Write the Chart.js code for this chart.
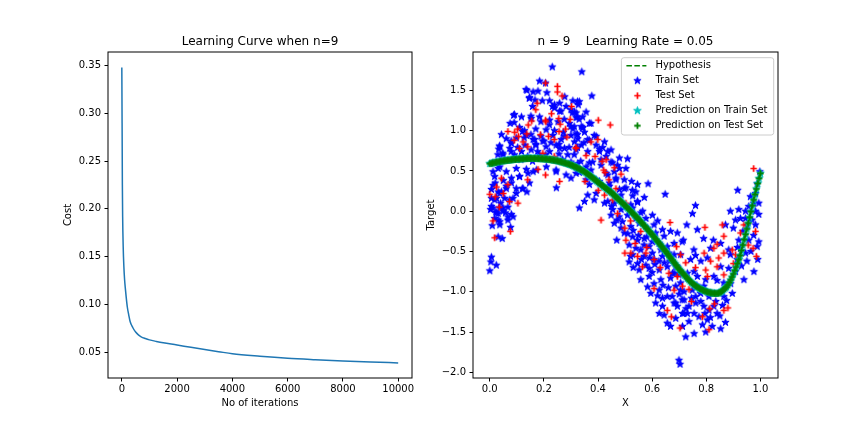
<!DOCTYPE html>
<html><head><meta charset="utf-8">
<script src="https://cdn.jsdelivr.net/npm/chart.js@4.4.0/dist/chart.umd.min.js"></script>
<style>
html,body{margin:0;padding:0;background:#fff;}
#wrap{position:relative;width:864px;height:432px;overflow:hidden;background:#fff;}
#c1{position:absolute;left:0;top:0;width:420px;height:432px;}
#c2{position:absolute;left:420px;top:0;width:444px;height:432px;}
</style></head><body>
<div id="wrap"><canvas id="c1" width="420" height="432"></canvas><canvas id="c2" width="444" height="432"></canvas></div>
<script>
// ---------- Left chart: learning curve ----------
const iterations = [0,10,20,30,50,75,100,130,160,200,250,300,400,500,600,700,850,1000,1250,1500,2000,2500,3000,3500,4000,5000,6000,7000,8000,9000,10000];
const costValues = [0.348,0.290,0.225,0.192,0.160,0.139,0.126,0.116,0.107,0.097,0.089,0.082,0.0755,0.0710,0.0680,0.0660,0.0642,0.0628,0.0612,0.0598,0.0575,0.0550,0.0527,0.0505,0.0483,0.0457,0.0436,0.0421,0.0408,0.0397,0.0387];
const leftXTicks = [0,2000,4000,6000,8000,10000];
const leftYTicks = [0.05,0.10,0.15,0.20,0.25,0.30,0.35];

// ---------- Right chart: hypothesis / predictions (read along the green band) ----------
const hypX = [
0.000,0.005,0.010,0.015,0.020,0.025,0.030,0.035,0.040,0.045,0.050,0.055,0.060,0.065,0.070,0.075,0.080,0.085,0.090,0.095,
0.100,0.105,0.110,0.115,0.120,0.125,0.130,0.135,0.140,0.145,0.150,0.155,0.160,0.165,0.170,0.175,0.180,0.185,0.190,0.195,
0.200,0.205,0.210,0.215,0.220,0.225,0.230,0.235,0.240,0.245,0.250,0.255,0.260,0.265,0.270,0.275,0.280,0.285,0.290,0.295,
0.300,0.305,0.310,0.315,0.320,0.325,0.330,0.335,0.340,0.345,0.350,0.355,0.360,0.365,0.370,0.375,0.380,0.385,0.390,0.395,
0.400,0.405,0.410,0.415,0.420,0.425,0.430,0.435,0.440,0.445,0.450,0.455,0.460,0.465,0.470,0.475,0.480,0.485,0.490,0.495,
0.500,0.505,0.510,0.515,0.520,0.525,0.530,0.535,0.540,0.545,0.550,0.555,0.560,0.565,0.570,0.575,0.580,0.585,0.590,0.595,
0.600,0.605,0.610,0.615,0.620,0.625,0.630,0.635,0.640,0.645,0.650,0.655,0.660,0.665,0.670,0.675,0.680,0.685,0.690,0.695,
0.700,0.705,0.710,0.715,0.720,0.725,0.730,0.735,0.740,0.745,0.750,0.755,0.760,0.765,0.770,0.775,0.780,0.785,0.790,0.795,
0.800,0.805,0.810,0.815,0.820,0.825,0.830,0.835,0.840,0.845,0.850,0.855,0.860,0.865,0.870,0.875,0.880,0.885,0.890,0.895,
0.900,0.905,0.910,0.915,0.920,0.925,0.930,0.935,0.940,0.945,0.950,0.955,0.960,0.965,0.970,0.975,0.980,0.985,0.990,0.995,
1.000];
const hypY = [
0.590,0.594,0.598,0.602,0.606,0.609,0.612,0.615,0.619,0.622,0.625,0.627,0.630,0.632,0.634,0.636,0.638,0.640,0.642,0.643,
0.645,0.647,0.648,0.650,0.651,0.652,0.653,0.654,0.654,0.655,0.655,0.655,0.655,0.655,0.654,0.654,0.653,0.652,0.652,0.651,
0.650,0.648,0.646,0.644,0.642,0.640,0.637,0.634,0.631,0.628,0.625,0.621,0.616,0.612,0.607,0.602,0.597,0.592,0.586,0.581,
0.575,0.568,0.560,0.552,0.544,0.536,0.527,0.518,0.509,0.500,0.490,0.478,0.466,0.454,0.441,0.428,0.415,0.402,0.388,0.374,
0.360,0.347,0.334,0.321,0.308,0.295,0.282,0.269,0.256,0.243,0.230,0.214,0.198,0.182,0.166,0.150,0.134,0.118,0.102,0.086,
0.070,0.053,0.036,0.020,0.003,-0.014,-0.031,-0.048,-0.066,-0.083,-0.100,-0.119,-0.138,-0.156,-0.175,-0.194,-0.213,-0.232,-0.252,-0.271,
-0.290,-0.311,-0.332,-0.352,-0.373,-0.394,-0.415,-0.436,-0.458,-0.479,-0.500,-0.522,-0.544,-0.566,-0.588,-0.610,-0.632,-0.654,-0.676,-0.698,
-0.720,-0.739,-0.758,-0.777,-0.796,-0.815,-0.833,-0.851,-0.868,-0.884,-0.900,-0.913,-0.926,-0.937,-0.948,-0.958,-0.967,-0.976,-0.984,-0.991,
-0.998,-1.003,-1.008,-1.012,-1.015,-1.018,-1.019,-1.020,-1.019,-1.016,-1.010,-1.000,-0.986,-0.970,-0.955,-0.940,-0.915,-0.885,-0.853,-0.818,
-0.780,-0.737,-0.694,-0.650,-0.602,-0.550,-0.487,-0.420,-0.352,-0.287,-0.220,-0.148,-0.076,-0.004,0.068,0.140,0.208,0.276,0.344,0.408,
0.470];

// ---------- Right chart: train set (blue stars) ----------
const trainX = [
0.231,0.184,0.206,0.137,0.16,0.178,0.211,0.147,0.194,0.221,
0.239,0.258,0.282,0.30,0.319,0.088,0.117,0.153,0.184,0.221,
0.252,0.294,0.043,0.061,0.098,0.135,0.166,0.196,0.233,0.264,
0.30,0.037,0.074,0.117,0.153,0.184,0.221,0.258,0.288,0.319,
0.037,0.018,0.061,0.098,0.135,0.16,0.245,0.30,0.246,0.012,
0.031,0.061,0.086,0.137,0.006,0.012,0.037,0.067,0.031,0.08,
0.11,0.128,0.17,0.208,0.239,0.272,0.307,0.08,0.13,0.17,
0.208,0.245,0.276,0.313,0.049,0.098,0.30,0.319,0.031,0.08,
0.11,0.012,0.12,0.025,0.055,0.043,0.098,0.049,0.018,0.031,
0.009,0.037,0.067,0.086,0.077,0.031,0.046,0.006,0.004,0.024,
0.0,0.34,0.377,0.331,0.327,0.356,0.323,0.368,0.338,0.386,
0.325,0.417,0.436,0.448,0.362,0.479,0.509,0.325,0.374,0.46,
0.497,0.524,0.546,0.571,0.648,0.527,0.362,0.393,0.35,0.424,
0.331,0.565,0.313,0.343,0.35,0.319,0.368,0.338,0.393,0.424,
0.405,0.38,0.411,0.448,0.356,0.331,0.436,0.472,0.503,0.393,
0.442,0.466,0.368,0.497,0.54,0.485,0.386,0.46,0.521,0.546,
0.436,0.454,0.478,0.46,0.528,0.558,0.577,0.601,0.607,0.638,
0.668,0.693,0.469,0.497,0.515,0.546,0.528,0.558,0.589,0.626,
0.515,0.546,0.577,0.607,0.638,0.681,0.711,0.558,0.589,0.607,
0.632,0.668,0.699,0.583,0.626,0.656,0.705,0.613,0.638,0.681,
0.711,0.644,0.656,0.717,0.699,0.703,0.485,0.509,0.54,0.448,
0.521,0.552,0.583,0.613,0.644,0.681,0.485,0.528,0.571,0.601,
0.656,0.54,0.571,0.601,0.632,0.662,0.552,0.589,0.626,0.656,
0.687,0.595,0.638,0.674,0.693,0.626,0.687,0.668,0.916,0.998,
0.76,0.749,0.728,0.767,0.715,0.79,0.826,0.889,0.92,0.945,
0.963,0.982,0.994,0.871,0.9,0.926,0.951,0.982,0.994,0.988,
0.976,0.945,0.92,0.853,0.816,0.754,0.705,0.742,0.804,0.889,
0.914,0.939,0.908,0.883,0.693,0.73,0.767,0.798,0.828,0.865,
0.705,0.748,0.779,0.81,0.896,0.718,0.761,0.791,0.828,0.73,
0.773,0.804,0.871,0.712,0.755,0.724,0.798,0.853,0.681,0.699,
0.755,0.718,0.791,0.865,0.761,0.736,0.81,0.84,0.755,0.786,
0.736,0.822,0.712,0.687,0.687,0.853,0.883,0.926,0.957,0.969,
0.957,0.975,0.994,0.988,0.982,0.945,0.908,0.134,0.146,0.167,
0.277,0.324,0.158,0.091,0.152,0.232,0.263,0.305,0.33,0.189,
0.22,0.299,0.121,0.152,0.189,0.275,0.324,0.036,0.079,0.103,
0.17,0.226,0.256,0.293,0.348,0.048,0.091,0.14,0.207,0.256,
0.312,0.075,0.127,0.2,0.275,0.312,0.342,0.324,0.158,0.115,
0.269,0.336,0.079,0.03,0.177,0.006,0.02,0.05,0.04,0.003,
0.022,0.058,0.585,
0.033,0.090,0.160,0.239,0.258,0.307,0.319,0.344,0.362,0.374,
0.393,0.405,0.368,0.411,0.43,0.454,0.43,0.466,0.479,0.503,
0.528,0.546,0.479,0.442,0.405,0.356,0.319,0.282,0.245,0.209,
0.172,0.141,0.11,0.08,0.061,0.037,0.018,0.006,0.025,0.049,
0.074,0.098,0.123,0.147,0.067,0.037,0.45,0.47,0.49,0.51,
0.53,0.55,0.57,0.59,0.61,0.625,0.645,0.665,0.675,0.64,
0.62,0.66,0.60,0.56,0.53,0.52,0.58,0.62,0.70,0.725,
0.745,0.765,0.78,0.795,0.815,0.835,0.85,0.86,0.875,0.89,
0.84,0.78,0.76,0.93,0.95,0.965,0.99,0.975,0.935,0.915];
const trainY = [
1.79,1.615,1.59,1.50,1.48,1.49,1.47,1.41,1.37,1.37,
1.32,1.34,1.30,1.26,1.22,1.19,1.17,1.15,1.17,1.13,
1.11,1.09,0.95,0.90,0.91,0.94,0.89,0.87,0.94,0.89,
0.94,0.80,0.78,0.74,0.76,0.70,0.74,0.78,0.70,0.76,
0.55,0.43,0.49,0.53,0.52,0.49,0.49,0.41,0.29,0.32,
0.24,0.28,0.16,0.24,0.16,0.04,0.04,0.05,-0.03,-0.04,
1.04,1.00,1.02,1.01,1.00,0.98,1.02,0.84,0.82,0.82,
0.80,0.82,0.78,0.86,0.70,0.65,0.61,0.55,0.53,0.41,
0.43,0.49,0.28,0.16,0.16,0.24,0.28,0.0,-0.09,-0.11,
-0.18,-0.17,-0.11,-0.07,-0.20,-0.32,-0.34,-0.57,-0.63,-0.67,
-0.74,1.73,1.43,1.36,1.32,1.23,1.17,1.09,1.05,0.94,
0.90,0.79,0.74,0.76,0.74,0.66,0.65,0.59,0.51,0.49,
0.39,0.37,0.33,0.17,0.21,0.26,0.20,0.22,0.12,0.10,
0.04,0.0,1.23,1.17,0.98,0.96,0.88,0.82,0.82,0.86,
0.74,0.61,0.57,0.61,0.55,0.48,0.45,0.57,0.53,0.39,
0.35,0.39,0.33,0.28,0.24,0.20,0.14,0.10,0.08,0.12,
0.12,0.02,-0.07,-0.15,0.04,-0.02,-0.09,-0.05,-0.17,-0.23,
-0.25,-0.27,-0.36,-0.27,-0.42,-0.36,-0.54,-0.48,-0.44,-0.40,
-0.63,-0.65,-0.67,-0.60,-0.56,-0.54,-0.38,-0.85,-0.81,-0.90,
-0.85,-0.83,-0.79,-0.94,-0.98,-1.06,-0.98,-1.14,-1.18,-1.14,
-1.10,-1.29,-1.39,-1.27,-1.85,-1.90,0.02,-0.05,-0.09,-0.05,
-0.19,-0.15,-0.21,-0.27,-0.31,-0.40,-0.21,-0.32,-0.34,-0.38,
-0.44,-0.46,-0.56,-0.52,-0.48,-0.52,-0.73,-0.71,-0.73,-0.69,
-0.69,-1.02,-1.08,-1.06,-1.18,-1.27,-1.33,-1.43,0.26,0.49,
0.07,-0.03,-0.17,-0.23,-0.36,-0.34,-0.36,0.0,0.02,0.0,
0.18,0.22,-0.04,-0.17,-0.21,-0.09,-0.18,-0.17,-0.38,-0.44,
-0.75,-0.52,-0.36,-0.40,-0.46,-0.48,-0.54,-0.60,-0.58,-0.54,
-0.60,-0.85,-0.75,-0.71,-0.69,-0.77,-0.81,-0.85,-0.81,-0.89,
-0.89,-0.98,-1.02,-1.06,-1.02,-1.10,-1.14,-1.18,-1.18,-1.27,
-1.31,-1.35,-1.38,-1.43,-1.52,-1.56,-1.50,-1.46,-0.77,-0.77,
-0.75,-1.0,-0.93,-1.06,-1.06,-1.18,-1.23,-1.27,-1.27,-1.41,
-1.37,-1.43,-1.27,-1.14,-0.93,-0.69,-0.48,-0.46,-0.36,-0.11,
0.06,0.10,0.10,0.34,0.0,-0.09,-0.11,1.51,1.40,1.38,
1.42,1.36,1.30,1.20,1.18,1.30,1.24,1.22,1.14,1.11,
1.07,1.05,0.99,0.95,0.93,0.93,0.95,0.81,0.87,0.79,
0.83,0.85,0.83,0.79,0.85,0.72,0.70,0.68,0.70,0.71,
0.70,1.09,0.91,0.87,1.14,1.05,1.03,0.79,0.62,0.64,
0.64,0.62,0.74,0.70,0.74,0.27,0.35,0.38,0.10,0.02,
-0.01,-0.02,0.34,
0.77,1.10,0.89,1.28,1.24,1.37,1.16,1.04,0.89,1.09,
0.93,0.77,0.60,0.64,0.68,0.60,0.47,0.41,0.53,0.29,
0.19,0.11,0.27,0.31,0.37,0.39,0.47,0.45,0.51,0.55,
0.51,0.47,0.43,0.35,0.31,0.22,0.14,0.06,-0.02,0.04,
0.14,0.22,0.28,0.35,-0.07,-0.13,0.06,-0.11,-0.13,-0.28,
-0.24,-0.30,-0.42,-0.58,-0.66,-0.62,-0.64,-0.62,-0.77,-0.92,
-1.05,-0.95,-0.76,-0.60,-0.70,-0.56,-0.32,-0.12,-1.03,-1.21,
-1.08,-0.92,-1.12,-1.27,-1.32,-1.12,-1.30,-1.17,-1.11,-0.90,
-0.86,-0.62,-0.55,-0.68,-0.62,-0.50,-0.60,-0.30,-0.25,-0.45];

// ---------- Right chart: test set (red plus) ----------
const testX = [
0.206,0.25,0.25,0.267,0.175,0.17,0.206,0.255,0.26,0.28,
0.067,0.092,0.137,0.11,0.14,0.196,0.178,0.206,0.14,0.043,
0.067,0.0,0.073,0.104,0.012,0.018,0.076,0.401,0.445,0.374,
0.399,0.356,0.389,0.43,0.319,0.46,0.421,0.426,0.485,0.352,
0.466,0.401,0.424,0.454,0.503,0.411,0.472,0.499,0.558,0.503,
0.537,0.499,0.521,0.546,0.577,0.607,0.564,0.666,0.69,0.662,
0.607,0.681,0.693,0.656,0.671,0.703,0.705,0.975,0.859,0.795,
0.865,0.84,0.828,0.896,0.973,0.926,0.939,0.982,0.985,0.792,
0.846,0.865,0.908,0.724,0.816,0.798,0.84,0.804,0.865,0.712,
0.736,0.865,0.813,0.786,0.810,0.302,0.142,0.207,0.256,0.297,
0.103,0.187,0.106,0.217,0.238,0.318,0.238,0.025,0.02,0.258,
0.09,0.155,0.228,0.123,0.285,0.05,0.035,0.415,0.44,0.52,
0.58,0.63,0.76,0.83,0.90,0.955,0.88,0.745];
const testY = [
1.59,1.55,1.48,1.43,1.34,1.26,1.13,1.15,1.08,1.02,
0.99,0.98,0.96,0.78,0.80,0.72,0.52,0.45,0.39,0.41,
0.33,0.21,0.12,0.10,-0.12,-0.33,-0.25,1.13,1.07,0.86,
0.89,0.69,0.68,0.64,0.78,0.54,0.51,0.48,0.46,0.37,
0.28,0.26,0.20,0.14,0.10,-0.11,-0.03,-0.21,-0.25,-0.36,
-0.40,-0.52,-0.52,-0.56,-0.52,-0.60,-0.69,-0.14,-0.44,-0.77,
-0.96,-0.98,-0.81,-1.23,-1.31,-1.45,-0.54,0.53,-0.17,-0.20,
-0.31,-0.41,-0.46,-0.48,-0.46,-0.27,-0.17,-0.25,-0.56,-0.52,
-0.58,-0.52,-0.54,-0.64,-0.62,-0.73,-0.69,-0.81,-0.79,-0.93,
-0.97,-1.23,-1.21,-1.31,-1.47,1.30,1.07,1.11,0.99,1.14,
1.02,0.95,0.93,0.93,0.89,0.79,0.68,0.30,0.18,0.37,
0.88,1.12,1.21,0.86,0.92,0.22,0.05,0.62,0.39,-0.12,
-0.45,-0.70,-0.70,-1.15,-0.65,-0.42,-1.20,-1.12];

const rightXTicks = [0,0.2,0.4,0.6,0.8,1.0];
const rightYTicks = [-2.0,-1.5,-1.0,-0.5,0.0,0.5,1.0,1.5];
const legendLabels = ['Hypothesis','Train Set','Test Set','Prediction on Train Set','Prediction on Test Set'];

// ---------- marker images ----------
function makeStar(color, R) {
  const s = Math.ceil(2 * R + 3);
  const c = document.createElement('canvas');
  c.width = s; c.height = s;
  const g = c.getContext('2d');
  const cx = s / 2, cy = s / 2, r2 = R * 0.381966;
  g.beginPath();
  for (let k = 0; k < 10; k++) {
    const a = -Math.PI / 2 + k * Math.PI / 5;
    const r = k % 2 === 0 ? R : r2;
    const px = cx + r * Math.cos(a), py = cy + r * Math.sin(a);
    if (k === 0) g.moveTo(px, py); else g.lineTo(px, py);
  }
  g.closePath();
  g.fillStyle = color; g.fill();
  g.lineWidth = 1; g.strokeStyle = color; g.stroke();
  return c;
}
function makePlus(color, half, lw) {
  const s = Math.ceil(2 * half + 2);
  const c = document.createElement('canvas');
  c.width = s; c.height = s;
  const g = c.getContext('2d');
  const m = s / 2;
  g.strokeStyle = color; g.lineWidth = lw; g.lineCap = 'butt';
  g.beginPath();
  g.moveTo(m - half, m); g.lineTo(m + half, m);
  g.moveTo(m, m - half); g.lineTo(m, m + half);
  g.stroke();
  return c;
}
const blueStar = makeStar('#0000ff', 3.8);
const cyanStar = makeStar('#00bfbf', 4.0);
const redPlus = makePlus('#ff0000', 3.2, 1.7);
const greenPlus = makePlus('#008000', 3.2, 1.8);

Chart.defaults.font.family = "'DejaVu Sans', sans-serif";
Chart.defaults.color = '#000';

const tickFont = {family: "'DejaVu Sans', sans-serif", size: 10};
const labelFont = {family: "'DejaVu Sans', sans-serif", size: 10};
const titleFont = {family: "'DejaVu Sans', sans-serif", size: 12, weight: 'normal'};

const framePlugin = {
  id: 'frame',
  afterDatasetsDraw(chart) {
    const a = chart.chartArea, ctx = chart.ctx;
    ctx.save();
    ctx.strokeStyle = '#000';
    ctx.lineWidth = 1;
    ctx.strokeRect(a.left, a.top, a.right - a.left, a.bottom - a.top);
    ctx.restore();
  }
};

const legendPlugin = {
  id: 'mplLegend',
  afterDraw(chart) {
    const a = chart.chartArea, ctx = chart.ctx;
    const bw = 152.3, bh = 77.3;
    const bx = a.right - 4.3 - bw, by = a.top + 5.7;
    ctx.save();
    const r = 2.5;
    ctx.beginPath();
    ctx.moveTo(bx + r, by);
    ctx.lineTo(bx + bw - r, by); ctx.quadraticCurveTo(bx + bw, by, bx + bw, by + r);
    ctx.lineTo(bx + bw, by + bh - r); ctx.quadraticCurveTo(bx + bw, by + bh, bx + bw - r, by + bh);
    ctx.lineTo(bx + r, by + bh); ctx.quadraticCurveTo(bx, by + bh, bx, by + bh - r);
    ctx.lineTo(bx, by + r); ctx.quadraticCurveTo(bx, by, bx + r, by);
    ctx.closePath();
    ctx.fillStyle = 'rgba(255,255,255,0.8)'; ctx.fill();
    ctx.strokeStyle = '#cccccc'; ctx.lineWidth = 1; ctx.stroke();
    const hx = bx + 16, tx = bx + 34;
    const icons = [null, blueStar, redPlus, cyanStar, greenPlus];
    ctx.font = "10px 'DejaVu Sans', sans-serif";
    ctx.textBaseline = 'middle';
    ctx.textAlign = 'left';
    for (let i = 0; i < legendLabels.length; i++) {
      const y = by + 8 + 15 * i;
      if (i === 0) {
        ctx.save();
        ctx.strokeStyle = '#008000'; ctx.lineWidth = 1.5; ctx.setLineDash([5.55, 2.4]);
        ctx.beginPath(); ctx.moveTo(bx + 5, y); ctx.lineTo(bx + 25, y); ctx.stroke();
        ctx.restore();
      } else {
        const im = icons[i];
        ctx.drawImage(im, hx - im.width / 2, y - im.height / 2);
      }
      ctx.fillStyle = '#000';
      ctx.fillText(legendLabels[i], tx, y);
    }
    ctx.restore();
  }
};

function axisCommon() {
  return {
    grid: {display: true, drawOnChartArea: false, drawTicks: true, tickLength: 3.5, color: '#000', lineWidth: 1},
    border: {display: false}
  };
}

// Left chart
new Chart(document.getElementById('c1'), {
  type: 'scatter',
  data: {
    datasets: [{
      label: 'Cost',
      data: iterations.map((x, i) => ({x: x, y: costValues[i]})),
      showLine: true, borderColor: '#1f77b4', borderWidth: 1.5, pointRadius: 0, fill: false,
      cubicInterpolationMode: 'monotone'
    }]
  },
  options: {
    responsive: false, animation: false, devicePixelRatio: 1,
    layout: {padding: {left: 50, right: 8, top: 0, bottom: 0}},
    plugins: {
      legend: {display: false}, tooltip: {enabled: false},
      title: {display: true, text: 'Learning Curve when n=9', fullSize: false, color: '#000', font: titleFont, padding: {top: 34.5, bottom: 3.1}}
    },
    scales: {
      x: Object.assign(axisCommon(), {
        type: 'linear', min: -500, max: 10500,
        afterBuildTicks: ax => { ax.ticks = leftXTicks.map(v => ({value: v})); },
        afterFit: s => { s.height = 54; },
        ticks: {color: '#000', font: tickFont, padding: 2, maxRotation: 0, autoSkip: false, callback: v => String(v)},
        title: {display: true, text: 'No of iterations', color: '#000', font: labelFont, padding: {top: 0, bottom: 22.7}}
      }),
      y: Object.assign(axisCommon(), {
        type: 'linear', min: 0.0229, max: 0.3643,
        afterBuildTicks: ax => { ax.ticks = leftYTicks.map(v => ({value: v})); },
        afterFit: s => { s.width = 58; },
        ticks: {color: '#000', font: tickFont, padding: 3.5, autoSkip: false, callback: v => Number(v).toFixed(2)},
        title: {display: true, text: 'Cost', color: '#000', font: labelFont, padding: {top: 12.5, bottom: 0}}
      })
    }
  },
  plugins: [framePlugin]
});

// Right chart
const fmt1 = v => Number(v).toFixed(1).replace('-', '\u2212');
const curvePts = hypX.map((x, i) => ({x: x, y: hypY[i]}));
new Chart(document.getElementById('c2'), {
  type: 'scatter',
  data: {
    datasets: [
      {label: 'Hypothesis', data: curvePts, showLine: true, borderColor: '#008000', borderWidth: 1.5, borderDash: [5.55, 2.4], pointRadius: 0, fill: false, tension: 0},
      {label: 'Prediction on Test Set', data: curvePts, showLine: false, pointStyle: greenPlus, pointRadius: 4},
      {label: 'Prediction on Train Set', data: curvePts, showLine: false, pointStyle: cyanStar, pointRadius: 4},
      {label: 'Test Set', data: testX.map((x, i) => ({x: x, y: testY[i]})), showLine: false, pointStyle: redPlus, pointRadius: 4},
      {label: 'Train Set', data: trainX.map((x, i) => ({x: x, y: trainY[i]})), showLine: false, pointStyle: blueStar, pointRadius: 4}
    ]
  },
  options: {
    responsive: false, animation: false, devicePixelRatio: 1,
    layout: {padding: {left: 0, right: 86, top: 0, bottom: 0}},
    plugins: {
      legend: {display: false}, tooltip: {enabled: false},
      title: {display: true, text: 'n = 9    Learning Rate = 0.05', fullSize: false, color: '#000', font: titleFont, padding: {top: 34.5, bottom: 3.1}}
    },
    scales: {
      x: Object.assign(axisCommon(), {
        type: 'linear', min: -0.062, max: 1.065,
        afterBuildTicks: ax => { ax.ticks = rightXTicks.map(v => ({value: v})); },
        afterFit: s => { s.height = 54; },
        ticks: {color: '#000', font: tickFont, padding: 2, maxRotation: 0, autoSkip: false, callback: fmt1},
        title: {display: true, text: 'X', color: '#000', font: labelFont, padding: {top: 0, bottom: 22.7}}
      }),
      y: Object.assign(axisCommon(), {
        type: 'linear', min: -2.07, max: 1.976,
        afterBuildTicks: ax => { ax.ticks = rightYTicks.map(v => ({value: v})); },
        afterFit: s => { s.width = 53; },
        ticks: {color: '#000', font: tickFont, padding: 3.5, autoSkip: false, callback: fmt1},
        title: {display: true, text: 'Target', color: '#000', font: labelFont, padding: {top: 5.7, bottom: 0}}
      })
    }
  },
  plugins: [framePlugin, legendPlugin]
});
</script>
</body></html>
